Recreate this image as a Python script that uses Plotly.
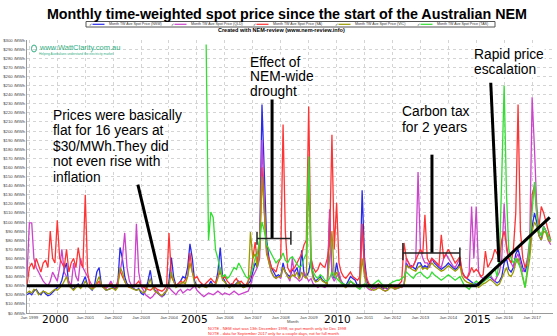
import plotly.graph_objects as go
import pandas as pd

# ---------------- data (monthly time-weighted spot price, $/MWh) ----------------
months = pd.date_range("1998-12-01", "2017-09-01", freq="MS")

nsw = [20,
    22,20,24,26,22,20,24,21,19,20,23,25,
    28,30,36,48,55,30,28,26,30,32,28,35,
    40,30,28,25,30,45,50,30,28,25,26,27,
    28,26,30,72,60,40,32,30,28,26,25,27,
    22,20,25,35,47,30,25,22,20,18,20,25,
    35,61,40,30,32,35,40,38,50,76,60,35,
    30,28,32,30,28,30,35,30,32,45,72,40,
    35,30,28,32,30,33,35,30,28,30,32,35,
    45,55,50,80,229,150,80,60,50,45,40,42,
    40,55,45,42,40,48,45,50,38,69,42,40,
    45,60,40,35,38,40,36,34,32,104,45,38,
    55,40,35,32,30,35,40,38,36,30,32,135,
    60,35,30,28,27,28,30,29,27,28,26,30,
    30,28,27,28,29,30,55,50,52,50,48,55,
    55,50,52,50,55,60,55,52,50,48,50,52,
    55,52,50,48,50,55,45,40,38,36,34,32,
    32,30,33,35,36,38,40,37,35,33,35,40,
    55,60,48,45,50,65,70,60,50,45,55,70,
    95,110,100,85,80,95,90,85,80]

qld = [40,
    99,99,60,50,45,40,35,32,30,35,45,40,
    35,50,70,45,40,35,30,55,40,35,60,50,
    45,40,35,30,28,30,32,30,28,27,30,35,
    30,28,35,45,60,88,50,35,30,28,98,45,
    30,25,20,18,16,18,22,25,20,18,22,25,
    28,25,22,20,24,26,22,24,26,25,28,30,
    25,22,20,18,20,22,21,20,22,24,22,20,
    22,21,20,22,24,22,20,21,22,23,24,30,
    40,45,50,60,190,120,70,55,45,40,38,40,
    38,50,45,40,35,60,40,38,35,37,45,40,
    35,38,32,30,28,30,29,28,30,114,40,35,
    40,45,35,30,28,30,35,32,30,29,28,98,
    45,28,26,25,27,26,28,27,25,24,26,28,
    28,26,27,29,28,30,60,55,50,52,58,155,
    70,60,55,55,50,60,58,55,52,50,60,65,
    60,55,52,50,55,60,45,40,38,45,117,60,
    117,45,40,38,36,40,42,38,35,40,45,60,
    120,70,60,55,50,60,65,55,45,50,60,80,
    237,180,120,90,85,95,90,80,75]

sa = [30,
    50,55,48,60,52,45,55,58,50,90,60,55,
    102,60,55,50,70,45,55,60,50,72,55,50,
    130,45,30,28,30,32,35,30,28,29,30,32,
    30,28,32,47,40,35,30,28,29,30,32,35,
    30,28,27,26,25,27,28,26,25,24,26,30,
    88,40,35,30,32,35,33,36,40,66,45,38,
    40,35,32,30,33,36,38,35,33,40,45,38,
    40,35,32,30,35,38,33,35,32,30,35,40,
    60,78,55,70,160,110,65,60,50,48,45,55,
    60,207,90,50,45,48,50,55,60,65,75,80,
    227,60,50,45,48,55,52,50,60,75,196,70,
    121,55,45,40,38,42,45,40,38,36,40,98,
    50,38,32,30,28,30,32,30,28,27,30,32,
    30,28,29,32,35,77,60,55,50,52,58,65,
    70,65,108,60,55,60,58,55,52,86,60,65,
    70,65,60,55,58,62,45,40,38,42,50,45,
    48,45,40,42,68,50,55,60,70,65,60,80,
    90,75,60,55,70,110,229,90,60,50,55,70,
    130,140,110,95,117,110,100,90,80]

vic = [22,
    24,22,26,25,20,22,24,23,21,22,24,26,
    25,28,30,35,40,30,27,25,28,30,27,30,
    35,30,28,26,28,35,40,30,27,25,26,27,
    27,25,28,50,45,35,30,28,27,26,25,26,
    24,22,24,30,38,28,24,22,20,19,22,24,
    30,45,35,28,30,32,34,32,40,55,45,32,
    30,28,30,29,28,30,32,30,31,38,50,36,
    34,30,28,30,29,32,34,30,28,29,31,89,
    60,65,50,70,150,110,65,55,45,40,38,40,
    40,50,45,40,38,42,40,45,37,45,40,38,
    150,50,38,34,35,38,35,33,32,60,90,40,
    45,38,33,30,28,32,35,33,31,28,30,60,
    40,30,28,26,25,26,28,27,25,24,25,28,
    28,26,27,28,29,30,52,50,48,47,46,50,
    52,48,50,48,52,55,52,50,48,46,47,50,
    52,50,48,46,48,52,40,36,34,33,32,30,
    30,28,30,32,33,35,37,35,32,30,32,38,
    45,50,42,40,45,55,60,50,40,28,45,60,
    90,100,95,85,80,90,88,80,78]

tas = [None] * 77 + [
    295,80,111,105,69,60,47,40,
    42,38,40,45,50,48,55,50,45,40,38,42,
    50,60,65,80,100,90,75,70,66,60,55,58,
    60,66,58,55,60,62,58,55,50,52,60,65,
    172,50,45,40,38,42,40,36,35,38,45,40,
    38,35,33,32,30,32,35,33,30,28,26,30,
    32,30,28,30,32,34,36,33,30,28,30,32,
    34,35,36,36,38,40,45,42,40,38,42,44,
    45,42,40,38,40,45,42,40,38,36,38,40,
    42,40,38,36,38,40,35,30,28,26,30,32,
    35,33,32,34,36,38,40,45,50,40,60,150,
    250,130,70,60,55,60,55,50,40,28,50,80,
    120,144,110,90,85,95,90,85,80]

series_names = ["Month TW Ave Spot Price (NSW)", "Month TW Ave Spot Price (QLD)",
                "Month TW Ave Spot Price (SA)", "Month TW Ave Spot Price (VIC)",
                "Month TW Ave Spot Price (TAS)"]
series_values = [nsw, qld, sa, vic, tas]
series_colors = ["#2a2aee", "#cc44cc", "#ff3333", "#9a9a00", "#33dd33"]

year_ticks = [f"{y}-01-01" for y in range(1999, 2018)]
# Jan 2000/2005/2010/2015 labels are replaced by the big year labels
year_tick_text = ["" if y % 5 == 0 else f"Jan {y}" for y in range(1999, 2018)]
big_years = ["2000", "2005", "2010", "2015"]
y_ticks = list(range(0, 301, 10))
y_tick_text = [f"${v} /MWh" for v in y_ticks]

for s in series_values:
    assert len(s) == len(months), len(s)

# ---------------- layout helpers ----------------
W, H = 557, 336
L, R, T, B = 27, 553, 40, 313
def px(x):
    return (x - L) / (R - L)
def py(y):
    return (B - y) / (B - T)

SANS = "Liberation Sans, Arial, sans-serif"

fig = go.Figure()
for name, vals, col in zip(series_names, series_values, series_colors):
    fig.add_trace(go.Scatter(x=months, y=vals, name=name, mode="lines",
                             line=dict(color=col, width=1.3), connectgaps=False,
                             showlegend=False))

# ---------------- annotation lines (data coordinates) ----------------
thick = dict(color="black", width=3)
thin = dict(color="#222", width=1.5)
flat_line = [("1998-12-01", 30), ("2015-01-10", 30)]
rise_line = [("2015-01-10", 30), ("2017-08-20", 105)]
prices_arrow = [("2002-11-20", 141), ("2003-09-30", 30)]
drought_stem = [("2007-09-10", 236), ("2007-09-10", 82)]
drought_bar = [("2007-02-25", 82), ("2008-05-13", 82)]
drought_ticks = [[("2007-02-25", 89), ("2007-02-25", 75)], [("2008-05-13", 90), ("2008-05-13", 75)]]
carbon_stem = [("2013-06-01", 174), ("2013-06-01", 66)]
carbon_bar = [("2012-05-17", 66), ("2014-06-01", 66)]
carbon_ticks = [[("2012-05-17", 77), ("2012-05-17", 58)], [("2014-06-01", 72), ("2014-06-01", 52)]]
rapid_arrow = [("2015-07-10", 253), ("2015-10-25", 56)]

def seg(p, line):
    fig.add_shape(type="line", xref="x", yref="y", x0=p[0][0], y0=p[0][1],
                  x1=p[1][0], y1=p[1][1], line=line, layer="above")

for p in [flat_line, rise_line, prices_arrow, drought_stem, carbon_stem, rapid_arrow]:
    seg(p, thick)
for p in [drought_bar, carbon_bar] + drought_ticks + carbon_ticks:
    seg(p, thin)

ann = []
def text(x, y, s, size=13.8, color="black", anchor="left", family=SANS, bg="white", bold=False):
    ann.append(dict(x=px(x), y=py(y), xref="paper", yref="paper", text=(f"<b>{s}</b>" if bold else s),
                    showarrow=False, xanchor=anchor, yanchor="middle",
                    font=dict(size=size, color=color, family=family),
                    bgcolor=bg, borderpad=0))

# big text boxes
for i, s in enumerate(["Prices were basically", "flat for 16 years at", "$30/MWh.They did",
                       "not even rise with", "inflation"]):
    text(52, 115 + 15.6 * i, s)
for i, s in enumerate(["Effect of", "NEM-wide", "drought"]):
    text(249, 62 + 14.6 * i, s)
for i, s in enumerate(["Carbon tax", "for 2 years"]):
    text(401, 112 + 16 * i, s)
for i, s in enumerate(["Rapid price", "escalation"]):
    text(473, 54 + 15.5 * i, s)

# big year labels under the axis
for x, s in zip([55, 194, 337, 477], big_years):
    text(x, 318.5, s, size=10.5, anchor="center", family="DejaVu Sans, Arial, sans-serif", bg=None)

# logo
text(38, 47, "www.WattClarity.com.au", size=7.5, color="#2fae7f", family=SANS, bg=None)
text(38, 53.5, "Helping Australians understand the electricity market", size=3.2,
     color="#2fae7f", family=SANS, bg=None)
fig.add_shape(type="circle", xref="paper", yref="paper", x0=px(31.5), x1=px(36.5),
              y0=py(52), y1=py(45), line=dict(color="#2fae7f", width=1))

# red notes
text(207, 328, "NOTE - NEM start was 13th December 1998, so part month only for Dec 1998",
     size=4, color="#ff2222", family=SANS, bg=None)
text(207, 333.3, "NOTE - data for September 2017 only for a couple days, not for full month",
     size=4, color="#ff2222", family=SANS, bg=None)

# axis title "Month"
text(293, 321.5, "Month", size=4.2, color="#444", anchor="center", family=SANS, bg=None)

# created with
text(281, 30.5, "Created with NEM-review (www.nem-review.info)", size=5.5, color="black",
     anchor="center", family=SANS, bg=None, bold=True)

# manual legend
fig.add_shape(type="rect", xref="paper", yref="paper", x0=px(86), x1=px(495),
              y0=py(27), y1=py(21.5), line=dict(color="#555", width=1), fillcolor="white")
for i, (name, col) in enumerate(zip(series_names, series_colors)):
    x0 = 87.5 + 82 * i
    text(x0, 24.3, "✓", size=4, color="#222", family="DejaVu Sans, Arial", bg=None)
    fig.add_shape(type="line", xref="paper", yref="paper", x0=px(x0 + 5), x1=px(x0 + 17),
                  y0=py(24.3), y1=py(24.3), line=dict(color=col, width=1.2))
    text(x0 + 20, 24.3, name, size=3.6, color="#333", family=SANS, bg=None)

fig.update_layout(
    width=W, height=H,
    margin=dict(l=L, r=W - R, t=T, b=H - B),
    paper_bgcolor="white", plot_bgcolor="white",
    title=dict(text="<b>Monthly time-weighted spot price since the start of the Australian NEM</b>",
               x=px(287), xanchor="center", xref="paper", y=1 - 14 / H, yanchor="middle",
               font=dict(size=14.3, color="black", family=SANS)),
    annotations=ann,
    showlegend=False,
)
fig.update_xaxes(range=["1998-12-01", "2017-10-01"], tickvals=year_ticks, ticktext=year_tick_text,
                 tickangle=0, tickfont=dict(size=4.3, color="#444", family=SANS),
                 showgrid=True, gridcolor="#d4d4d4", griddash="dot", gridwidth=1,
                 showline=True, linecolor="#999", linewidth=1, ticks="", zeroline=False)
fig.update_yaxes(range=[0, 300], tickvals=y_ticks, ticktext=y_tick_text,
                 tickfont=dict(size=4.3, color="#444", family=SANS),
                 showgrid=True, gridcolor="#d4d4d4", griddash="dot", gridwidth=1,
                 showline=True, linecolor="#999", linewidth=1, ticks="", zeroline=False)

fig.write_html("out.html")
